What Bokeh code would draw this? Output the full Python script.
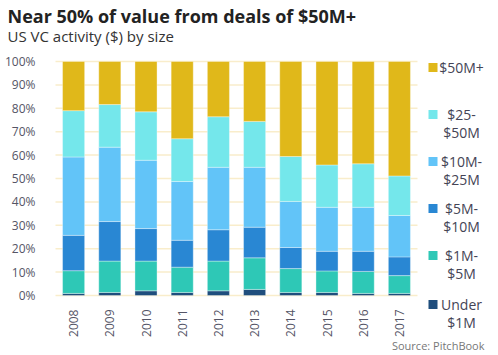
from bokeh.plotting import figure
from bokeh.models import ColumnDataSource, FixedTicker, CustomJSTickFormatter, Range1d
from bokeh.core.properties import value
from bokeh.embed import file_html
from bokeh.resources import INLINE

years = ["2008", "2009", "2010", "2011", "2012", "2013", "2014", "2015", "2016", "2017"]
under_1m = [0.9, 1.3, 2.0, 1.3, 2.0, 2.6, 1.3, 1.3, 0.9, 0.9]
m1_5 = [9.7, 13.4, 12.7, 10.8, 12.7, 13.5, 10.2, 9.2, 9.4, 7.6]
m5_10 = [15.1, 16.9, 13.9, 11.5, 13.4, 13.1, 9.0, 8.4, 8.6, 8.0]
m10_25 = [33.5, 31.8, 29.2, 25.1, 26.7, 25.6, 19.7, 18.8, 18.8, 17.7]
m25_50 = [19.8, 18.2, 20.7, 18.3, 21.6, 19.6, 19.2, 18.1, 18.6, 16.9]
m50_plus = [21.0, 18.4, 21.5, 33.0, 23.6, 25.6, 40.6, 44.2, 43.7, 48.9]
series_keys = ["under", "m1_5", "m5_10", "m10_25", "m25_50", "m50"]
legend_labels = [["Under", "$1M"], ["$1M-", "$5M"], ["$5M-", "$10M"],
                 ["$10M-", "$25M"], ["$25-", "$50M"], ["$50M+"]]
y_ticks = [0, 10, 20, 30, 40, 50, 60, 70, 80, 90, 100]
title_text = "Near 50% of value from deals of $50M+"
subtitle_text = "US VC activity ($) by size"
source_text = "Source: PitchBook"

colors = ["#1F4E7D", "#2EC8B6", "#2987D3", "#62C4F8", "#74E7EB", "#E0B81A"]
FONT = "Open Sans"
W, H = 498, 355

# layout: plotting area from px 55..417 (10 categories), 0%..100% at py 295..61
PX0, PX_PER = 55.0, 36.2
PY0, PY_PER = 295.0, 2.34


def dx(px):
    return (px - PX0) / PX_PER


def dy(py):
    return (PY0 - py) / PY_PER


xs = [i + 0.5 for i in range(len(years))]
src = ColumnDataSource(dict(x=xs, under=under_1m, m1_5=m1_5, m5_10=m5_10,
                            m10_25=m10_25, m25_50=m25_50, m50=m50_plus))

p = figure(x_range=Range1d(dx(0), dx(W)), y_range=Range1d(dy(H), dy(0)),
           width=W, height=H, title=None, output_backend="svg", toolbar_location=None,
           min_border=0, min_border_left=0, min_border_right=0,
           min_border_top=0, min_border_bottom=0)
p.outline_line_color = None
p.xgrid.grid_line_color = None
p.ygrid.grid_line_color = None

# grid lines across the bar area only
p.segment(x0=[0] * len(y_ticks), x1=[len(years)] * len(y_ticks), y0=y_ticks, y1=y_ticks,
          line_color="#F9EDCB", line_width=1.5)

p.vbar_stack(series_keys, x="x", width=0.61, source=src, color=colors,
             line_color="white", line_alpha=0.35, line_width=1)

p.yaxis.fixed_location = 0
p.yaxis.ticker = FixedTicker(ticks=y_ticks)
p.yaxis.formatter = CustomJSTickFormatter(code="return tick + '%';")
p.yaxis.axis_line_color = None
p.yaxis.major_tick_line_color = None
p.yaxis.minor_tick_line_color = None
p.yaxis.major_label_standoff = 14

p.xaxis.fixed_location = 0
p.xaxis.ticker = FixedTicker(ticks=xs)
p.xaxis.formatter = CustomJSTickFormatter(args=dict(labels=years),
                                          code="return labels[Math.round(tick - 0.5)];")
p.xaxis.axis_line_color = None
p.xaxis.major_tick_line_color = None
p.xaxis.minor_tick_line_color = None
p.xaxis.major_label_orientation = 3.14159265 / 2
p.xaxis.major_label_standoff = 8
for ax in (p.xaxis, p.yaxis):
    ax.major_label_text_font = FONT
    ax.major_label_text_font_size = "12px"
    ax.major_label_text_color = "#555566"


def add_text(text, px, py, size, color="#333333", align="left", style="normal"):
    p.text(x=[dx(px)], y=[dy(py)], text=[text], text_font=value(FONT),
           text_font_size=value(size), text_color=color, text_align=align,
           text_baseline="middle", text_font_style=style)


add_text(title_text, 7, 15, "18px", "#222222", style="bold")
add_text(subtitle_text, 7, 35, "15px", "#333333")
add_text(source_text, 484, 345, "11px", "#777777", align="right")

sq_y = [304, 255, 208, 161, 114, 67]
for i, lines in enumerate(legend_labels):
    y0 = sq_y[i]
    p.scatter(x=[dx(432.5)], y=[dy(y0)], marker="square", size=9,
              fill_color=colors[i], line_color=None)
    for j, t in enumerate(lines):
        add_text(t, 461, y0 + 18 * j, "14px", "#444455", align="center")

open("out.html", "w").write(file_html(p, INLINE))
